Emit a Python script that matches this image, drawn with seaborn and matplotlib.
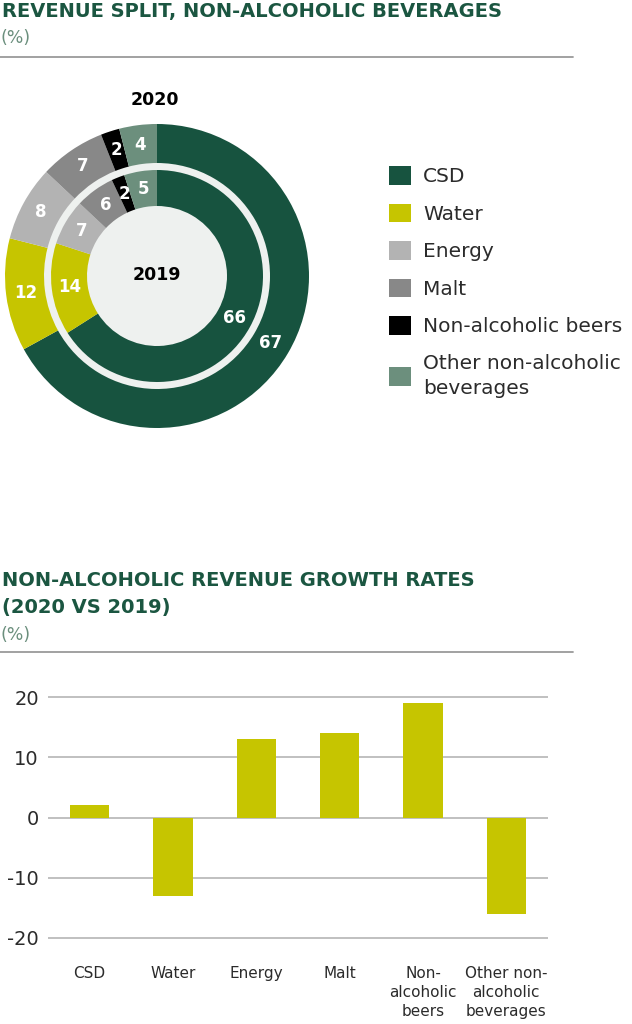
import matplotlib
matplotlib.use("Agg")
import matplotlib.pyplot as plt
import seaborn as sns
from matplotlib.lines import Line2D
from matplotlib.patches import Circle
from matplotlib import font_manager
import numpy as np

# data
segments = ["CSD", "Water", "Energy", "Malt", "Non-alcoholic beers", "Other non-alcoholic beverages"]
legend_labels = ["CSD", "Water", "Energy", "Malt", "Non-alcoholic beers", "Other non-alcoholic\nbeverages"]
share_2020 = [67, 12, 8, 7, 2, 4]
share_2019 = [66, 14, 7, 6, 2, 5]

bar_labels = ["CSD", "Water", "Energy", "Malt", "Non-\nalcoholic\nbeers", "Other non-\nalcoholic\nbeverages"]
growth = [2, -13, 13, 14, 19, -16]
y_ticks = [-20, -10, 0, 10, 20]

colors = ["#17533f", "#c6c500", "#b3b3b3", "#888888", "#000000", "#6c8f7d"]
green = "#1b5641"
pct_color = "#6b8f7d"
text_color = "#2b2b2b"

sns.set_style("white")
plt.rcParams["font.family"] = ["DejaVu Sans"]
plt.rcParams["axes.unicode_minus"] = False

installed = {f.name for f in font_manager.fontManager.ttflist}
narrow = "Liberation Sans Narrow" if "Liberation Sans Narrow" in installed else "DejaVu Sans"
title_size = 17.5 if narrow != "DejaVu Sans" else 14

W, H = 632, 1024
fig = plt.figure(figsize=(W / 100, H / 100), dpi=100)


def px(x, y):
    return x / W, 1 - y / H


def rule(y):
    fig.add_artist(Line2D([0, 573 / W], [1 - y / H] * 2, transform=fig.transFigure,
                          color="#9a9a9a", lw=1.3))


# headers
fig.text(*px(2, 11), "REVENUE SPLIT, NON-ALCOHOLIC BEVERAGES", family=narrow, weight="bold",
         size=title_size, color=green, va="center")
fig.text(*px(0, 38), "(%)", size=12.5, color=pct_color, va="center")
rule(57)

fig.text(*px(2, 581), "NON-ALCOHOLIC REVENUE GROWTH RATES", family=narrow, weight="bold",
         size=title_size, color=green, va="center")
fig.text(*px(2, 608), "(2020 VS 2019)", family=narrow, weight="bold",
         size=title_size, color=green, va="center")
fig.text(*px(0, 635), "(%)", size=12.5, color=pct_color, va="center")
rule(652)

# donut
cx, cy = 157, 276
ax_pie = fig.add_axes([(cx - 160) / W, 1 - (cy + 160) / H, 320 / W, 320 / H])
ax_pie.add_patch(Circle((0, 0), 113, color="#eef1ef", zorder=0))
outer, _ = ax_pie.pie(share_2020, radius=152, startangle=90, counterclock=False, colors=colors,
                      wedgeprops=dict(width=39, edgecolor="none"))
inner, _ = ax_pie.pie(share_2019, radius=106, startangle=90, counterclock=False, colors=colors,
                      wedgeprops=dict(width=36, edgecolor="none"))
ax_pie.set_xlim(-160, 160)
ax_pie.set_ylim(-160, 160)
ax_pie.axis("off")

for wedges, vals in [(outer, share_2020), (inner, share_2019)]:
    for w, v in zip(wedges, vals):
        ang = np.deg2rad((w.theta1 + w.theta2) / 2)
        r = w.r - w.width / 2
        ax_pie.text(r * np.cos(ang), r * np.sin(ang), str(v), color="white", family=narrow,
                    weight="bold", size=12, ha="center", va="center")

fig.text(*px(155, 100), "2020", family=narrow, weight="bold", size=12.5, color="black",
         ha="center", va="center")
fig.text(*px(157, 275), "2019", family=narrow, weight="bold", size=12.5, color="black",
         ha="center", va="center")

leg = fig.legend(handles=outer, labels=legend_labels, loc="upper left",
                 bbox_to_anchor=px(389, 166), frameon=False, fontsize=14.5,
                 handlelength=1.1, handleheight=1.05, handletextpad=0.6,
                 labelspacing=0.86, borderpad=0, borderaxespad=0)
for t in leg.get_texts():
    t.set_color(text_color)
    t.set_linespacing(1.45)

# bar chart
ax_bar = fig.add_axes([48 / W, 1 - 944 / H, 500 / W, 253 / H])
sns.barplot(x=bar_labels, y=growth, color=colors[1], saturation=1, width=0.47,
            linewidth=0, ax=ax_bar)
ax_bar.set_xlim(-0.5, 5.5)
ax_bar.set_ylim(-21, 21)
ax_bar.set_yticks(y_ticks)
ax_bar.grid(axis="y", color="#b5b5b5", lw=1.2)
ax_bar.grid(axis="x", visible=False)
ax_bar.set_axisbelow(True)
sns.despine(ax=ax_bar, left=True, bottom=True)
ax_bar.tick_params(axis="y", length=0, pad=6.5, labelsize=14, labelcolor=text_color)
ax_bar.tick_params(axis="x", length=0, pad=15.5, labelsize=11, labelcolor=text_color)
for t in ax_bar.get_xticklabels():
    t.set_linespacing(1.37)
ax_bar.set_xlabel("")
ax_bar.set_ylabel("")

fig.savefig("out.png", dpi=100)
